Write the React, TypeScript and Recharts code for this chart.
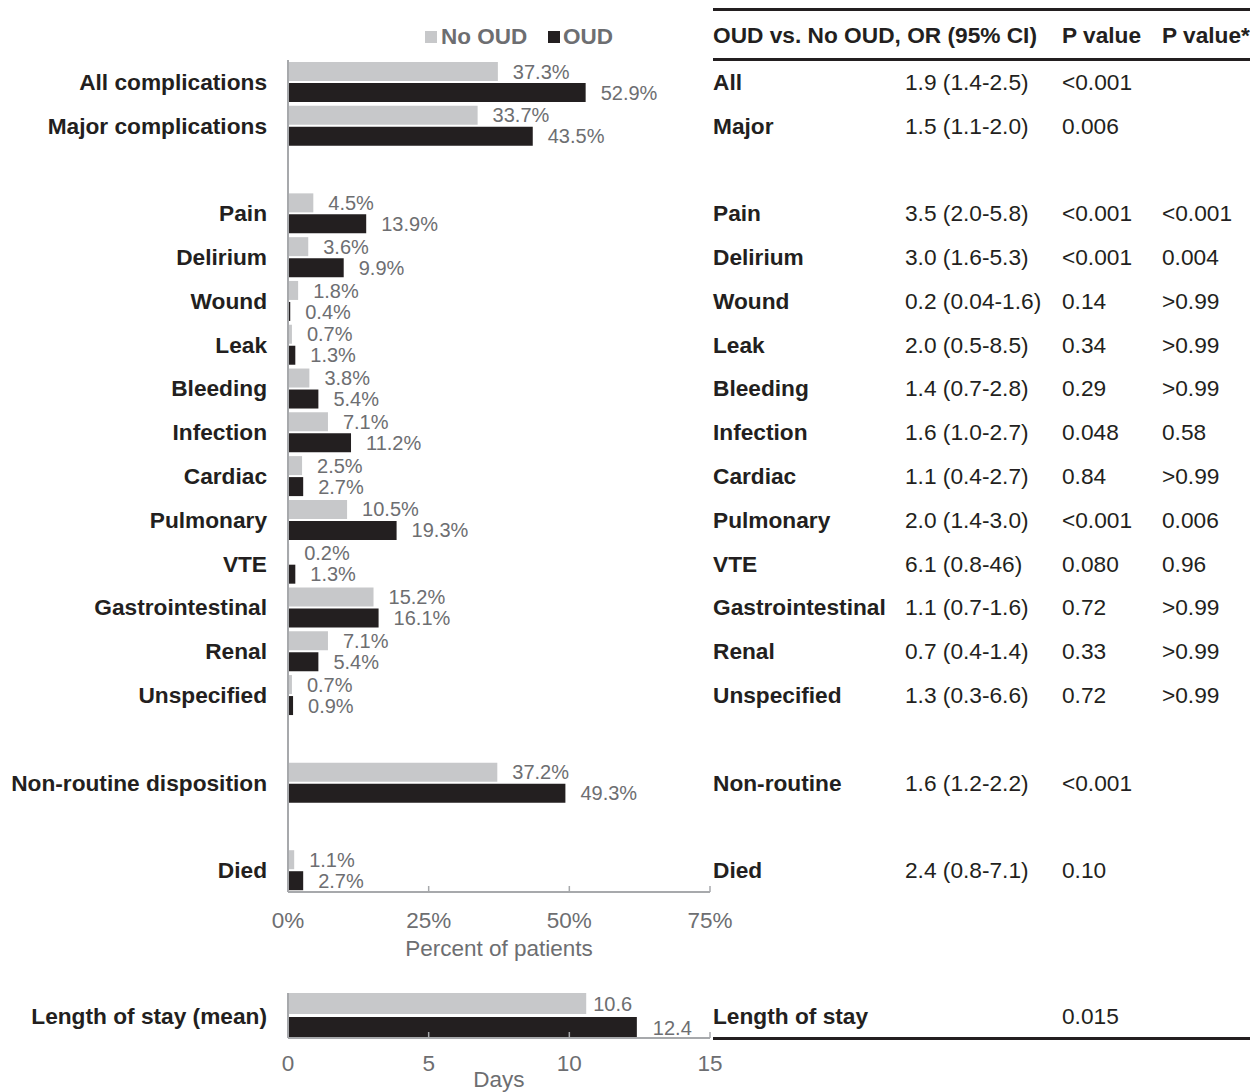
import React from 'react';
import { BarChart, Bar, XAxis, YAxis, LabelList, Label } from 'recharts';

// ---------- Data ----------
const categoryIds = [
  'all', 'major', 'gap1', 'pain', 'delirium', 'wound', 'leak', 'bleeding', 'infection',
  'cardiac', 'pulmonary', 'vte', 'gi', 'renal', 'unspecified', 'gap2', 'nonroutine', 'gap3', 'died',
];
const categoryLabels = [
  'All complications', 'Major complications', '', 'Pain', 'Delirium', 'Wound', 'Leak', 'Bleeding',
  'Infection', 'Cardiac', 'Pulmonary', 'VTE', 'Gastrointestinal', 'Renal', 'Unspecified', '',
  'Non-routine disposition', '', 'Died',
];
const noOudPct = [37.3, 33.7, null, 4.5, 3.6, 1.8, 0.7, 3.8, 7.1, 2.5, 10.5, 0.2, 15.2, 7.1, 0.7, null, 37.2, null, 1.1];
const oudPct = [52.9, 43.5, null, 13.9, 9.9, 0.4, 1.3, 5.4, 11.2, 2.7, 19.3, 1.3, 16.1, 5.4, 0.9, null, 49.3, null, 2.7];

const tableLabels = [
  'All', 'Major', '', 'Pain', 'Delirium', 'Wound', 'Leak', 'Bleeding', 'Infection', 'Cardiac',
  'Pulmonary', 'VTE', 'Gastrointestinal', 'Renal', 'Unspecified', '', 'Non-routine', '', 'Died',
];
const orCI = [
  '1.9 (1.4-2.5)', '1.5 (1.1-2.0)', '', '3.5 (2.0-5.8)', '3.0 (1.6-5.3)', '0.2 (0.04-1.6)',
  '2.0 (0.5-8.5)', '1.4 (0.7-2.8)', '1.6 (1.0-2.7)', '1.1 (0.4-2.7)', '2.0 (1.4-3.0)', '6.1 (0.8-46)',
  '1.1 (0.7-1.6)', '0.7 (0.4-1.4)', '1.3 (0.3-6.6)', '', '1.6 (1.2-2.2)', '', '2.4 (0.8-7.1)',
];
const pValues = [
  '<0.001', '0.006', '', '<0.001', '<0.001', '0.14', '0.34', '0.29', '0.048', '0.84', '<0.001',
  '0.080', '0.72', '0.33', '0.72', '', '<0.001', '', '0.10',
];
const pValuesAdj = [
  '', '', '', '<0.001', '0.004', '>0.99', '>0.99', '>0.99', '0.58', '>0.99', '0.006', '0.96',
  '>0.99', '>0.99', '>0.99', '', '', '', '',
];
const pctTicks = [0, 25, 50, 75];

const losIds = ['los'];
const losLabels = ['Length of stay (mean)'];
const losNoOud = [10.6];
const losOud = [12.4];
const losTableLabels = ['Length of stay'];
const losOr = [''];
const losP = ['0.015'];
const losPAdj = [''];
const dayTicks = [0, 5, 10, 15];

const tableHeader = ['OUD vs. No OUD, OR (95% CI)', 'P value', 'P value*'];
const legendNames = ['No OUD', 'OUD'];

// ---------- Styles ----------
const GRAY_BAR = '#c7c8ca';
const DARK = '#231f20';
const TEXT_GRAY = '#6d6e71';
const AXIS_GRAY = '#a7a9ac';
const FONT = '"Liberation Sans", Arial, Helvetica, sans-serif';
const FS_MAIN = 22.7;
const FS_TICK = 22.5;
const FS_VALUE = 20;
const COL_LABEL = 713;
const COL_OR = 905;
const COL_P = 1062;
const COL_PADJ = 1162;

const mainData = categoryIds.map((id, i) => ({ id, noOud: noOudPct[i], oud: oudPct[i] }));
const losData = losIds.map((id, i) => ({ id, noOud: losNoOud[i], oud: losOud[i] }));

const makeYTick = (
  ids: string[], labels: string[], tLabels: string[], ors: string[], ps: string[], pAdjs: string[],
) => (props: any) => {
  const { x, y, payload } = props;
  const i = ids.indexOf(payload.value);
  const common = { y, dominantBaseline: 'central' as const, fontSize: FS_MAIN, fill: DARK };
  return (
    <g>
      <text x={x} textAnchor="end" fontWeight="bold" {...common}>{labels[i]}</text>
      <text x={COL_LABEL} fontWeight="bold" {...common}>{tLabels[i]}</text>
      <text x={COL_OR} {...common}>{ors[i]}</text>
      <text x={COL_P} {...common}>{ps[i]}</text>
      <text x={COL_PADJ} {...common}>{pAdjs[i]}</text>
    </g>
  );
};

const makeXTick = (suffix: string, labelDy: number) => (props: any) => {
  const { x, y, payload } = props;
  return (
    <g>
      <line x1={x} x2={x} y1={y - 6} y2={y} stroke={AXIS_GRAY} strokeWidth={1.5} />
      <text x={x} y={y + labelDy} textAnchor="middle" dominantBaseline="central" fontSize={FS_TICK} fill={TEXT_GRAY}>
        {`${payload.value}${suffix}`}
      </text>
    </g>
  );
};

const makeAxisTitle = (text: string, dy: number) => (props: any) => {
  const vb = props.viewBox || {};
  return (
    <text
      x={vb.x + vb.width / 2}
      y={vb.y + dy}
      textAnchor="middle"
      dominantBaseline="central"
      fontSize={FS_TICK}
      fill={TEXT_GRAY}
    >
      {text}
    </text>
  );
};

const pctFormatter = (v: any) => (v == null ? '' : `${Number(v).toFixed(1)}%`);
const dayFormatter = (v: any) => (v == null ? '' : `${Number(v).toFixed(1)}`);

const headerStyle = {
  position: 'absolute' as const, top: 22, fontSize: FS_MAIN, lineHeight: '26px',
  fontWeight: 'bold' as const, color: DARK, whiteSpace: 'nowrap' as const,
};
const legendTextStyle = {
  position: 'absolute' as const, top: 24, fontSize: FS_TICK, lineHeight: '26px',
  fontWeight: 'bold' as const, color: TEXT_GRAY, whiteSpace: 'nowrap' as const,
};

export default function App() {
  return (
    <div
      style={{
        position: 'absolute', left: 0, top: 0, width: 1250, height: 1092,
        fontFamily: FONT, background: '#fff', overflow: 'hidden',
      }}
    >
      {/* Legend */}
      <div style={{ position: 'absolute', left: 425, top: 31, width: 12, height: 12, background: GRAY_BAR }} />
      <div style={{ ...legendTextStyle, left: 441 }}>{legendNames[0]}</div>
      <div style={{ position: 'absolute', left: 548, top: 31, width: 12, height: 12, background: DARK }} />
      <div style={{ ...legendTextStyle, left: 563 }}>{legendNames[1]}</div>

      {/* Table header & rules */}
      <div style={{ position: 'absolute', left: 713, top: 8, width: 537, height: 3, background: DARK }} />
      <div style={{ ...headerStyle, left: COL_LABEL }}>{tableHeader[0]}</div>
      <div style={{ ...headerStyle, left: COL_P }}>{tableHeader[1]}</div>
      <div style={{ ...headerStyle, left: COL_PADJ }}>{tableHeader[2]}</div>
      <div style={{ position: 'absolute', left: 713, top: 58, width: 537, height: 3, background: DARK }} />
      <div style={{ position: 'absolute', left: 713, top: 1037, width: 537, height: 3, background: DARK }} />

      {/* Main chart */}
      <div style={{ position: 'absolute', left: 0, top: 0 }}>
        <BarChart
          width={1250}
          height={962}
          data={mainData}
          layout="vertical"
          margin={{ top: 60, right: 540, left: 0, bottom: 0 }}
          barCategoryGap={2}
          barGap={2}
        >
          <XAxis
            type="number"
            domain={[0, 75]}
            ticks={pctTicks}
            interval={0}
            height={70}
            tickSize={0}
            tickMargin={0}
            tickLine={false}
            axisLine={{ stroke: AXIS_GRAY, strokeWidth: 2 }}
            tick={makeXTick('%', 28)}
          >
            <Label content={makeAxisTitle('Percent of patients', 56)} />
          </XAxis>
          <YAxis
            type="category"
            dataKey="id"
            width={288}
            interval={0}
            tickSize={0}
            tickMargin={21}
            tickLine={false}
            axisLine={{ stroke: AXIS_GRAY, strokeWidth: 2 }}
            tick={makeYTick(categoryIds, categoryLabels, tableLabels, orCI, pValues, pValuesAdj)}
          />
          <Bar dataKey="noOud" fill={GRAY_BAR} isAnimationActive={false}>
            <LabelList dataKey="noOud" position="right" offset={15} fill={TEXT_GRAY} fontSize={FS_VALUE} formatter={pctFormatter} />
          </Bar>
          <Bar dataKey="oud" fill={DARK} isAnimationActive={false}>
            <LabelList dataKey="oud" position="right" offset={15} fill={TEXT_GRAY} fontSize={FS_VALUE} formatter={pctFormatter} />
          </Bar>
        </BarChart>
      </div>

      {/* Length of stay chart */}
      <div style={{ position: 'absolute', left: 0, top: 970 }}>
        <BarChart
          width={1250}
          height={122}
          data={losData}
          layout="vertical"
          margin={{ top: 23, right: 540, left: 0, bottom: 0 }}
          barCategoryGap={0}
          barGap={3}
        >
          <XAxis
            type="number"
            domain={[0, 15]}
            ticks={dayTicks}
            interval={0}
            height={54}
            tickSize={0}
            tickMargin={0}
            tickLine={false}
            axisLine={{ stroke: AXIS_GRAY, strokeWidth: 2 }}
            tick={makeXTick('', 25)}
          >
            <Label content={makeAxisTitle('Days', 41)} />
          </XAxis>
          <YAxis
            type="category"
            dataKey="id"
            width={288}
            interval={0}
            tickSize={0}
            tickMargin={21}
            tickLine={false}
            axisLine={{ stroke: AXIS_GRAY, strokeWidth: 2 }}
            tick={makeYTick(losIds, losLabels, losTableLabels, losOr, losP, losPAdj)}
          />
          <Bar dataKey="noOud" fill={GRAY_BAR} isAnimationActive={false}>
            <LabelList dataKey="noOud" position="right" offset={7} fill={TEXT_GRAY} fontSize={FS_VALUE} formatter={dayFormatter} />
          </Bar>
          <Bar dataKey="oud" fill={DARK} isAnimationActive={false}>
            <LabelList dataKey="oud" position="right" offset={16} fill={TEXT_GRAY} fontSize={FS_VALUE} formatter={dayFormatter} />
          </Bar>
        </BarChart>
      </div>
    </div>
  );
}
